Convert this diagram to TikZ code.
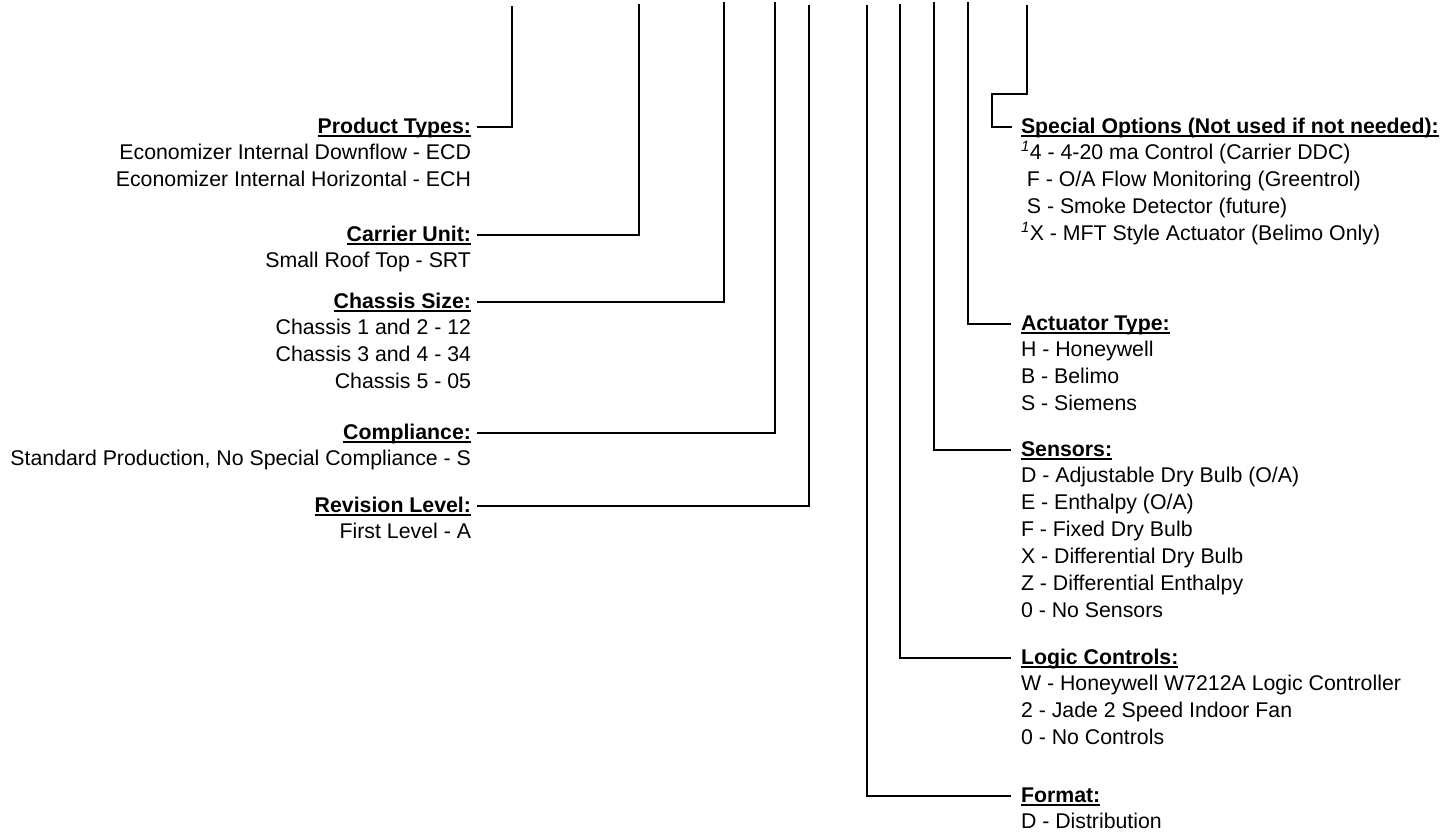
\documentclass[tikz,border=0pt]{standalone}
\usepackage{fontspec}
\setmainfont{Liberation Sans}
\newcommand\myul[1]{\setbox0=\hbox{\bfseries #1}\rlap{\rule[-3pt]{\wd0}{1.5pt}}\box0}
\newcommand\codeblock[6]{%
  \node[txt,anchor=base #2] (#1) at (#3,{-(#4+6.5)}) {\myul{#5}};
  \foreach \t [count=\i] in {#6} {
    \node[txt,anchor=base #2] (#1-\i) at (#3,{-(#4+32)-27*(\i-1)}) {\t};
  }%
}
\begin{document}
\begin{tikzpicture}[x=1pt,y=1pt,
  txt/.style={inner sep=0pt,outer sep=0pt,font=\fontsize{21.3}{27}\selectfont},
  conn/.style={line width=2pt,line join=miter}]
\useasboundingbox (0,0) rectangle (1455,-833);
% top ends of the code lines
\coordinate (t1) at (512,-6);
\coordinate (t2) at (639,-4);
\coordinate (t3) at (724,-2.3);
\coordinate (t4) at (775,-2.3);
\coordinate (t5) at (809,-5.3);
\coordinate (t6) at (867,-5.3);
\coordinate (t7) at (900,-4);
\coordinate (t8) at (933.5,-2.3);
\coordinate (t9) at (968,-2.3);
\coordinate (t10) at (1027,-5.3);
\coordinate (b2) at (992,-94);
% left blocks
\codeblock{pt}{east}{471}{127}{Product Types:}{Economizer Internal Downflow - ECD,Economizer Internal Horizontal - ECH}
\codeblock{cu}{east}{471}{235}{Carrier Unit:}{Small Roof Top - SRT}
\codeblock{cs}{east}{471}{302}{Chassis Size:}{Chassis 1 and 2 - 12,Chassis 3 and 4 - 34,Chassis 5 - 05}
\codeblock{co}{east}{471}{433}{Compliance:}{{Standard Production, No Special Compliance - S}}
\codeblock{rl}{east}{471}{506}{Revision Level:}{First Level - A}
% right blocks
\codeblock{sp}{west}{1021}{127}{Special Options (Not used if not needed):}{\textsuperscript{\itshape 1}4 - 4-20 ma Control (Carrier DDC),\hspace*{5.9pt}F - O/A Flow Monitoring (Greentrol),\hspace*{5.9pt}S - Smoke Detector (future),\textsuperscript{\itshape 1}X - MFT Style Actuator (Belimo Only)}
\codeblock{ac}{west}{1021}{324}{Actuator Type:}{H - Honeywell,B - Belimo,S - Siemens}
\codeblock{se}{west}{1021}{450}{Sensors:}{D - Adjustable Dry Bulb (O/A),E - Enthalpy (O/A),F - Fixed Dry Bulb,X - Differential Dry Bulb,Z - Differential Enthalpy,0 - No Sensors}
\codeblock{lc}{west}{1021}{658}{Logic Controls:}{W - Honeywell W7212A Logic Controller,2 - Jade 2 Speed Indoor Fan,0 - No Controls}
\codeblock{fm}{west}{1021}{796}{Format:}{D - Distribution}
% connectors
\draw[conn] ([xshift=6pt,yshift=6.5pt]pt.base east) -| (t1);
\draw[conn] ([xshift=6pt,yshift=6.5pt]cu.base east) -| (t2);
\draw[conn] ([xshift=6pt,yshift=6.5pt]cs.base east) -| (t3);
\draw[conn] ([xshift=6pt,yshift=6.5pt]co.base east) -| (t4);
\draw[conn] ([xshift=6pt,yshift=6.5pt]rl.base east) -| (t5);
\draw[conn] ([xshift=-10pt,yshift=6.5pt]fm.base west) -| (t6);
\draw[conn] ([xshift=-10pt,yshift=6.5pt]lc.base west) -| (t7);
\draw[conn] ([xshift=-10pt,yshift=6.5pt]se.base west) -| (t8);
\draw[conn] ([xshift=-10pt,yshift=6.5pt]ac.base west) -| (t9);
\draw[conn] (t10) |- (b2) |- ([xshift=-9pt,yshift=6.5pt]sp.base west);
\end{tikzpicture}
\end{document}
